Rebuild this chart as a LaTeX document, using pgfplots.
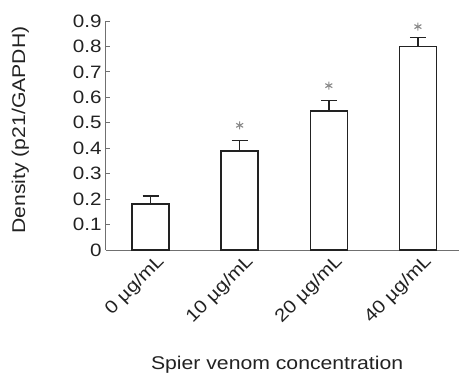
\documentclass[border=0pt]{standalone}
\usepackage{fontspec}
\setmainfont{Liberation Sans}[FakeStretch=1.15]
\usepackage{pgfplots}
\pgfplotsset{compat=1.18}
\definecolor{axgray}{HTML}{707070}
\definecolor{bardark}{HTML}{222222}
\definecolor{stargray}{HTML}{8A8A8A}
\begin{document}
\begin{tikzpicture}
\begin{axis}[
  scale only axis,
  width=356.5bp, height=229bp,
  xmin=-0.5, xmax=3.5, ymin=0, ymax=0.9,
  axis x line*=bottom, axis y line*=left,
  axis line style={axgray, line width=1bp},
  ytick={0,0.1,...,0.9},
  yticklabels={0,0.1,0.2,0.3,0.4,0.5,0.6,0.7,0.8,0.9},
  xtick={0,1,2,3},
  xticklabels={0 µg/mL,10 µg/mL,20 µg/mL,40 µg/mL},
  major tick length=4bp,
  tick align=inside,
  x tick style={draw=none},
  y tick style={axgray, line width=1bp},
  /pgf/number format/assume math mode=true,
  tick label style={font=\fontsize{18}{20}\selectfont, text=bardark},
  yticklabel style={xshift=-1bp},
  xticklabel style={xshift=5bp, yshift=-3bp, rotate=45, anchor=north east, inner sep=0pt},
  xlabel={Spier venom concentration},
  ylabel={Density (p21/GAPDH)},
  label style={font=\fontsize{18.5}{20}\selectfont, text=bardark},
  xlabel style={at={(axis description cs:0.48,-0.5)}, anchor=center},
  ylabel style={at={(axis description cs:-0.24,0.524)}, anchor=center},
  clip=false,
]
\addplot[ybar, bar width=37bp, draw=bardark, fill=white, line width=1.5bp,
  error bars/.cd, y dir=plus, y explicit,
  error bar style={bardark, line width=1.5bp},
  error mark options={rotate=90, mark size=8bp, line width=1.5bp, bardark}]
  coordinates {
  (0,0.18) +- (0,0.033)
  (1,0.39) +- (0,0.04)
  (2,0.547) +- (0,0.04)
  (3,0.80) +- (0,0.035)
  };
\addplot[only marks, mark=asterisk, mark size=4bp, stargray, line width=1.1bp]
  coordinates {(1,0.49) (2,0.646) (3,0.878)};
\end{axis}
\pgfresetboundingbox
\path[use as bounding box] (-106bp,-126bp) rectangle (353bp,250bp);
\end{tikzpicture}
\end{document}
